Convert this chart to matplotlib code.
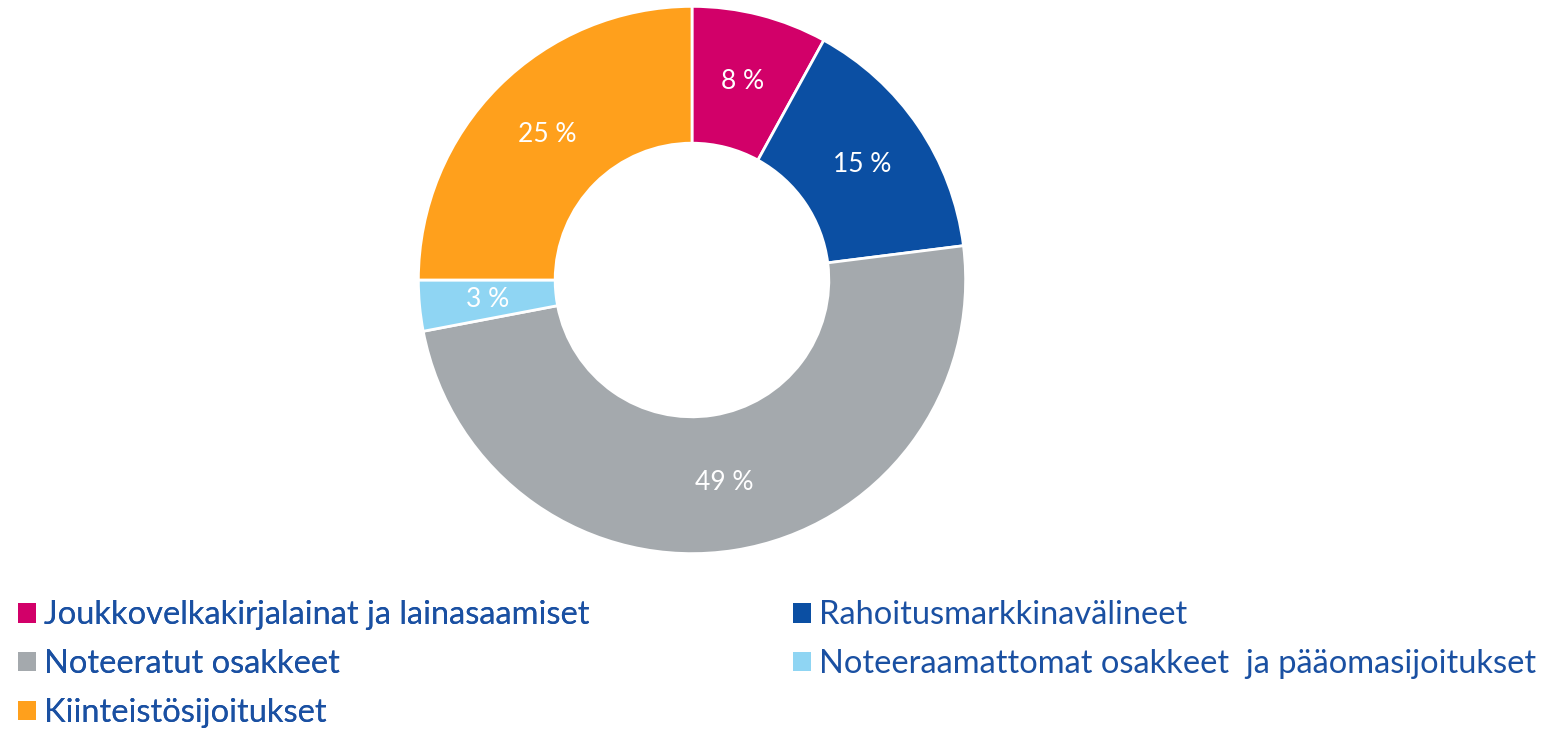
import matplotlib
matplotlib.use("Agg")
import matplotlib.pyplot as plt
from matplotlib.patches import Patch

plt.rcParams['font.family'] = ['Lato', 'DejaVu Sans']

# data
categories = ["Joukkovelkakirjalainat ja lainasaamiset", "Rahoitusmarkkinavälineet",
              "Noteeratut osakkeet", "Noteeraamattomat osakkeet  ja pääomasijoitukset",
              "Kiinteistösijoitukset"]
shares = [8, 15, 49, 3, 25]
colors = ["#D20069", "#0B4FA3", "#A4A9AD", "#8FD5F3", "#FFA01C"]

fig = plt.figure(figsize=(15.47, 7.34), dpi=100)
ax = fig.add_axes([(692 - 275) / 1547, (734 - 555) / 734, 550 / 1547, 550 / 734])

wedges, texts, autotexts = ax.pie(
    shares, colors=colors, startangle=90, counterclock=False,
    autopct=lambda p: f"{round(p)} %", pctdistance=0.75,
    wedgeprops=dict(width=0.5, edgecolor="white", linewidth=2),
    textprops=dict(color="white", fontsize=19))
ax.set_xlim(-1.005, 1.005)
ax.set_ylim(-1.005, 1.005)
ax.set_aspect("equal")

txt_color = "#1A50A2"
handles = [Patch(facecolor=c, edgecolor="none") for c in colors]

opts = dict(loc="upper left", frameon=False, fontsize=23.5, labelcolor=txt_color,
            handlelength=0.55, handleheight=0.55, handletextpad=0.25,
            labelspacing=0.58, borderaxespad=0)
leg1 = fig.legend([handles[i] for i in (0, 2, 4)], [categories[i] for i in (0, 2, 4)],
                  bbox_to_anchor=(0.003, 0.2), **opts)
leg2 = fig.legend([handles[i] for i in (1, 3)], [categories[i] for i in (1, 3)],
                  bbox_to_anchor=(0.504, 0.2), **opts)
fig.add_artist(leg1)

fig.savefig("out.png", dpi=100, facecolor="white")
